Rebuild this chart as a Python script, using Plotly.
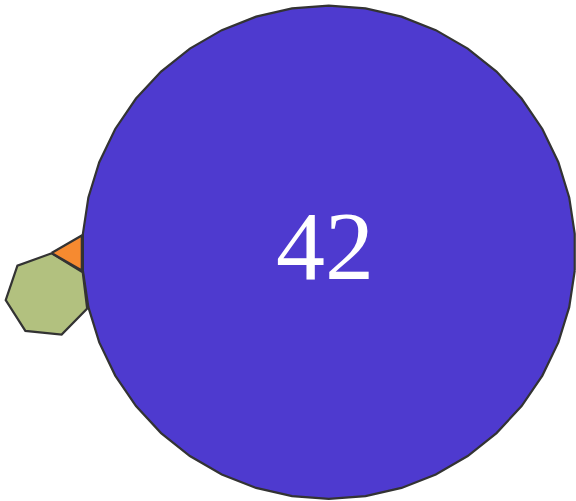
import numpy as np
import plotly.graph_objects as go

# Data: number of sides of each shape (also its value)
values = [42, 7, 3]
labels = ["42", "", ""]

# Layout constants (pixel space)
centers = [(328.8, 252.3), (47.4, 295.1), (71.7, 253.0)]
radii = [246.6, 42.0, 20.2]
rotations_deg = [180 / 42, -84.1, 180.0]
colors = ["#4E3ACF", "#B2C17F", "#F68A30"]
stroke = "#333333"

fig = go.Figure()
for v, (cx, cy), r, rot, col in zip(values, centers, radii, rotations_deg, colors):
    ang = np.deg2rad(rot) + 2 * np.pi * np.arange(v + 1) / v
    xs = cx + r * np.cos(ang)
    ys = cy + r * np.sin(ang)
    fig.add_trace(go.Scatter(x=xs, y=ys, mode="lines", fill="toself",
                             fillcolor=col, line=dict(color=stroke, width=2.2),
                             hoverinfo="skip", showlegend=False))

for lab, (cx, cy) in zip(labels, centers):
    if lab:
        fig.add_annotation(x=cx - 4, y=cy - 6, text=lab, showarrow=False,
                           font=dict(family="Liberation Serif", size=98, color="white"),
                           xanchor="center", yanchor="middle")

fig.update_layout(
    width=576, height=501,
    margin=dict(l=0, r=0, t=0, b=0),
    paper_bgcolor="white", plot_bgcolor="white",
    xaxis=dict(range=[0, 576], visible=False, fixedrange=True),
    yaxis=dict(range=[501, 0], visible=False, fixedrange=True),
)
fig.write_html("out.html", config={"displayModeBar": False},
               post_script="document.body.style.margin='0';document.body.style.overflow='hidden';")
